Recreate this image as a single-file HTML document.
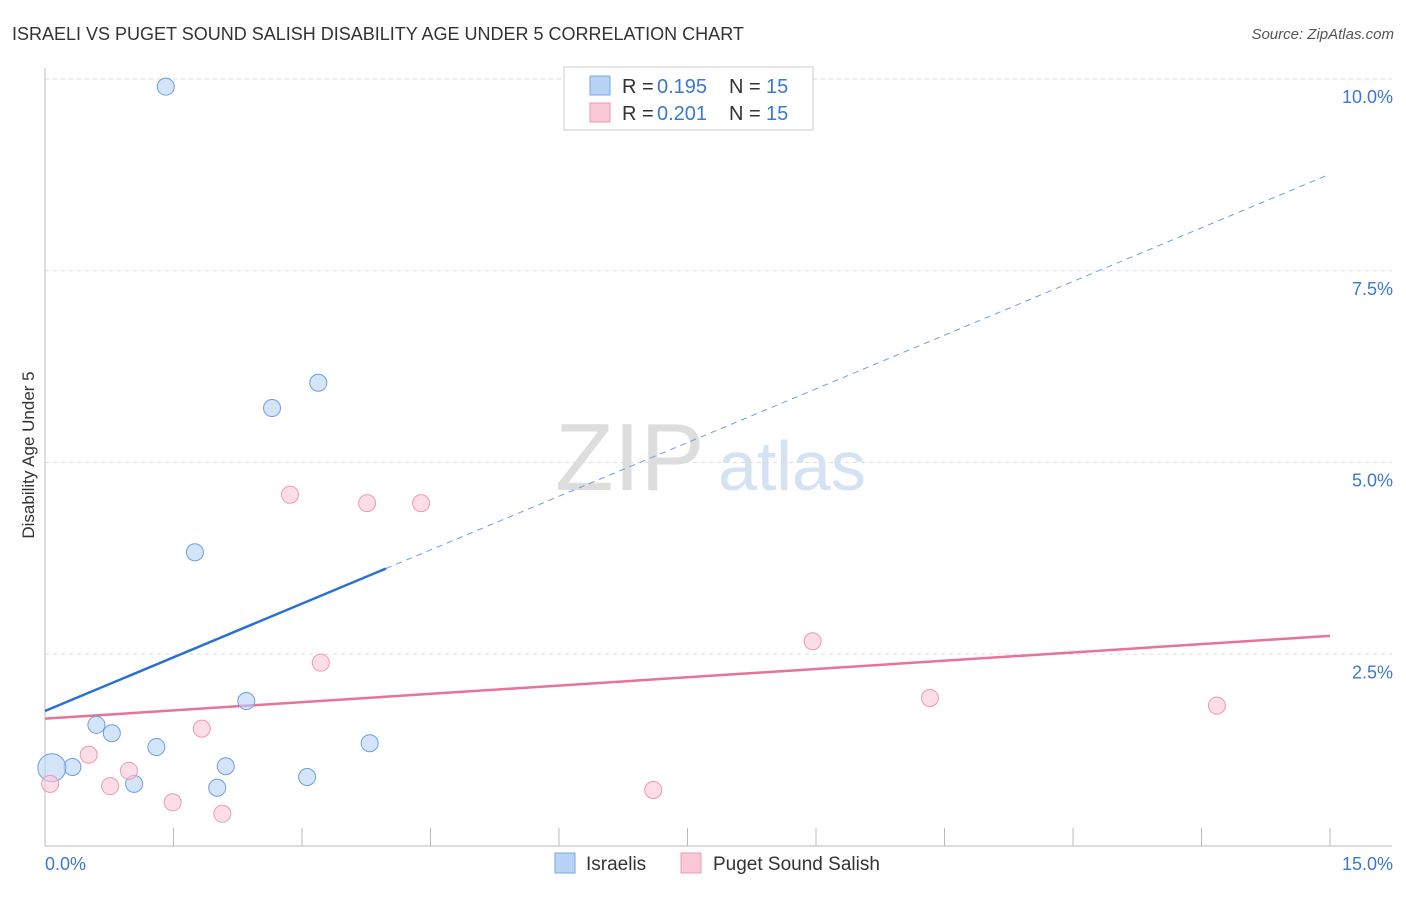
<!DOCTYPE html>
<html><head><meta charset="utf-8"><style>
body{margin:0;background:#fff;font-family:"Liberation Sans",sans-serif;}
svg text{font-family:"Liberation Sans",sans-serif;}
</style></head><body>
<svg id="c" width="1406" height="892">
<text x="12" y="40" font-size="18" fill="#333">ISRAELI VS PUGET SOUND SALISH DISABILITY AGE UNDER 5 CORRELATION CHART</text>
<text x="1394" y="39" font-size="15" fill="#555" font-style="italic" text-anchor="end">Source: ZipAtlas.com</text>
<text x="34" y="455" font-size="17" fill="#333" text-anchor="middle" transform="rotate(-90 34 455)">Disability Age Under 5</text>
<text x="555" y="490" font-size="96" fill="#ddd" font-family="Liberation Serif">ZIP</text>
<text x="718" y="490" font-size="70" fill="#d4e2f4">atlas</text>
<g id="grid"></g><g id="lines"></g><g id="pts"></g>
<g>
<rect x="564" y="67" width="249" height="63" fill="#fff" stroke="#ccc"/>
<rect x="590" y="76" width="20" height="19" fill="#b9d3f5" stroke="#7aa6e6"/>
<rect x="590" y="103" width="20" height="19" fill="#fbc8d6" stroke="#ee99b3"/>
<text x="622" y="93" font-size="20" fill="#333">R =</text>
<text x="657" y="93" font-size="20" fill="#3a78d4">0.195</text>
<text x="729" y="93" font-size="20" fill="#333">N =</text>
<text x="766" y="93" font-size="20" fill="#3a78d4">15</text>
<text x="622" y="120" font-size="20" fill="#333">R =</text>
<text x="657" y="120" font-size="20" fill="#3a78d4">0.201</text>
<text x="729" y="120" font-size="20" fill="#333">N =</text>
<text x="766" y="120" font-size="20" fill="#3a78d4">15</text>
</g>
<g>
<rect x="555" y="853" width="20" height="20" fill="#b9d3f5" stroke="#7aa6e6"/>
<text x="586" y="870" font-size="19" fill="#333">Israelis</text>
<rect x="681" y="853" width="20" height="20" fill="#fbc8d6" stroke="#ee99b3"/>
<text x="713" y="870" font-size="19" fill="#333">Puget Sound Salish</text>
</g>
</svg>
<script>
const blueX=[1.41,3.19,2.65,1.75,2.35,0.60,0.78,1.30,3.79,0.32,2.11,0.08,1.04,2.01,3.06];
const blueY=[9.90,6.04,5.71,3.83,1.89,1.58,1.47,1.29,1.34,1.03,1.04,1.02,0.81,0.76,0.90];
const blueR=[8.5,8.5,8.5,8.5,8.5,8.5,8.5,8.5,8.5,8.5,8.5,14,8.5,8.5,8.5];
const pinkX=[2.86,3.76,4.39,8.96,3.22,10.33,13.68,0.51,1.83,0.98,0.76,1.49,2.07,7.10,0.06];
const pinkY=[4.58,4.47,4.47,2.67,2.39,1.93,1.83,1.19,1.53,0.98,0.78,0.57,0.42,0.73,0.81];
const blueLine=[1.76,8.76];
const pinkLine=[1.66,2.74];
const yTicks=[2.5,5,7.5,10];
const xTicks=[0,1.5,3,4.5,6,7.5,9,10.5,12,13.5,15];
const NS='http://www.w3.org/2000/svg';
const sx=v=>45+v/15*1285, sy=v=>846-v*76.7;
function mk(t,a,p){const e=document.createElementNS(NS,t);for(const k in a)e.setAttribute(k,a[k]);p.appendChild(e);return e;}
const g=document.getElementById('grid');
yTicks.forEach(t=>{
 const l=mk('line',{x1:45,x2:1392,y1:sy(t),y2:sy(t),stroke:'#ddd','stroke-dasharray':'4 4'},g);
 
 
 const tx=mk('text',{x:1393,y:sy(t)+24,'font-size':18,fill:'#3a78d4','text-anchor':'end'},g);
 tx.textContent=t.toFixed(1)+'%';
 
 
});
mk('line',{x1:45,x2:45,y1:68,y2:846,stroke:'#bbb'},g);
mk('line',{x1:45,x2:1392,y1:846,y2:846,stroke:'#bbb'},g);
xTicks.forEach(t=>{
 const l=mk('line',{x1:sx(t),x2:sx(t),y1:828,y2:846,stroke:'#bbb'},g);
 
 
});
[[0,'0.0%','start',45],[15,'15.0%','end',1393]].forEach(a=>{
 const tx=mk('text',{x:a[3],y:870,'font-size':18,fill:'#3a78d4','text-anchor':a[2]},g);
 tx.textContent=a[1];
 
 
});
const L=document.getElementById('lines');
const bEnd=3.98;
let e=mk('line',{x1:sx(0),y1:sy(blueLine[0]),x2:sx(bEnd),y2:sy(blueLine[0]+(blueLine[1]-blueLine[0])*bEnd/15),stroke:'#2a6fd6','stroke-width':2.5},L);


e=mk('line',{x1:sx(bEnd),y1:sy(blueLine[0]+(blueLine[1]-blueLine[0])*bEnd/15),x2:sx(15),y2:sy(blueLine[1]),stroke:'#6d9ee0','stroke-width':1,'stroke-dasharray':'6 5'},L);


e=mk('line',{x1:sx(0),y1:sy(pinkLine[0]),x2:sx(15),y2:sy(pinkLine[1]),stroke:'#e8729a','stroke-width':2.5},L);


const P=document.getElementById('pts');
blueX.forEach((x,i)=>{
 const c=mk('circle',{cx:sx(x),cy:sy(blueY[i]),r:blueR[i],fill:'rgba(185,211,245,0.6)',stroke:'#6d9ee0','stroke-width':1},P);
 
 
});
pinkX.forEach((x,i)=>{
 const c=mk('circle',{cx:sx(x),cy:sy(pinkY[i]),r:8.5,fill:'rgba(251,200,214,0.6)',stroke:'#ee99b3','stroke-width':1},P);
 
 
});
</script>
</body></html>
